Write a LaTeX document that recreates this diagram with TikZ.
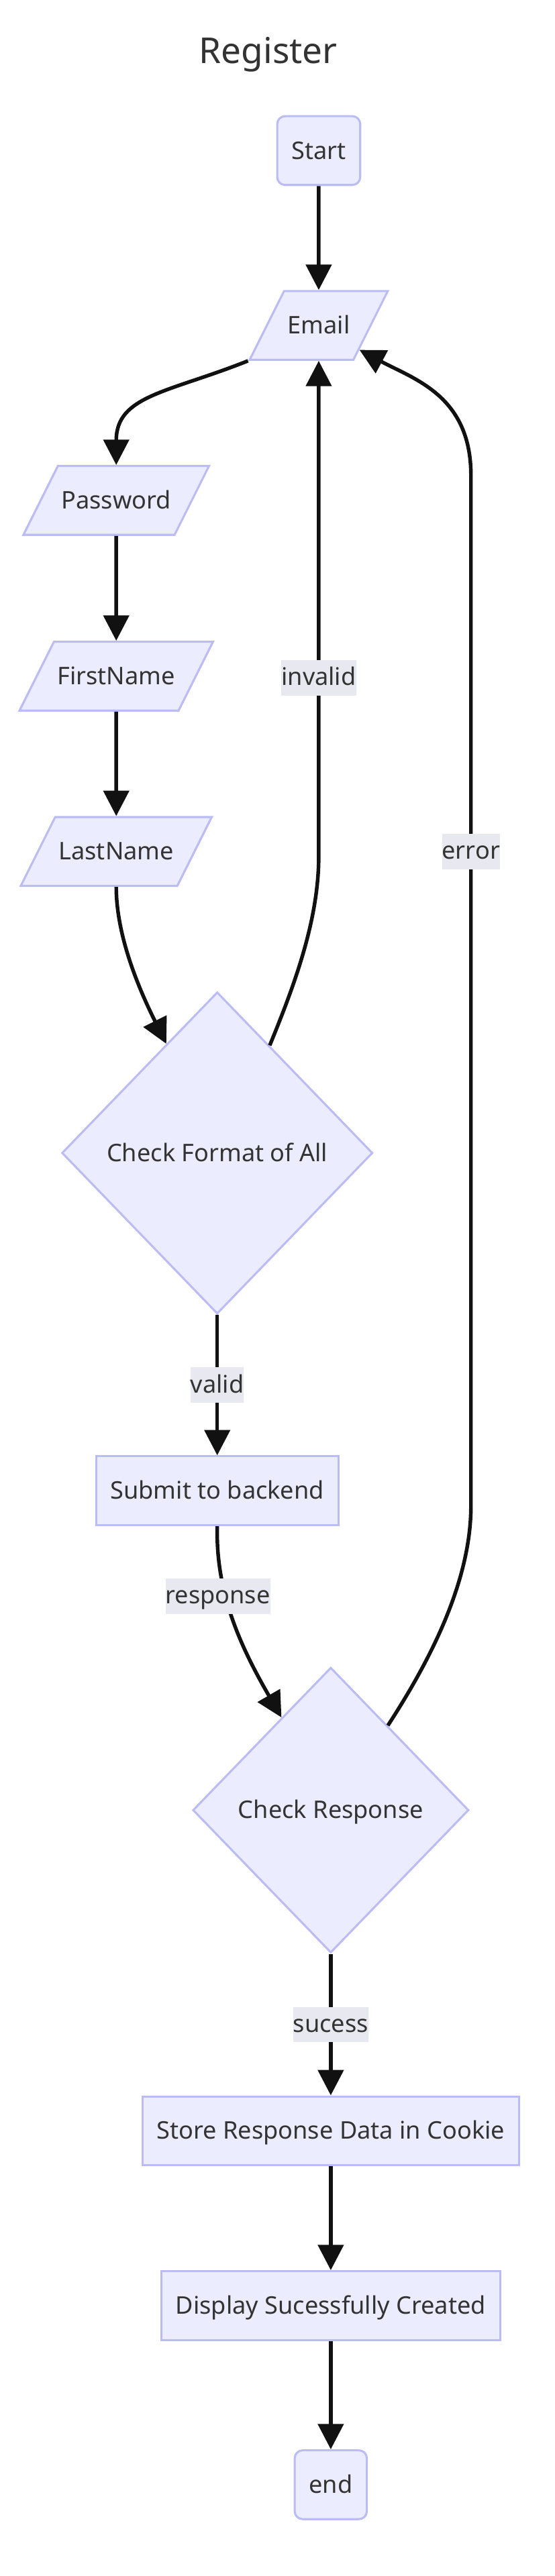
\documentclass[tikz,border=0pt]{standalone}
\usepackage{fontspec}
\setmainfont{Noto Sans}
\usetikzlibrary{arrows.meta,shapes.geometric}
\definecolor{nodefill}{HTML}{ECECFF}
\definecolor{nodeline}{HTML}{BCBCF5}
\definecolor{lblfill}{HTML}{E8E8F0}
\definecolor{txtgray}{HTML}{333333}
\definecolor{edgeblack}{HTML}{111111}
\begin{document}
\begin{tikzpicture}[x=1pt,y=-1pt,
  every node/.style={font=\fontsize{15.3}{18}\selectfont, text=txtgray},
  base/.style={draw=nodeline, fill=nodefill, line width=1.3pt, text height=14pt, text depth=3.3pt},
  term/.style={base, rectangle, rounded corners=5pt, inner xsep=9pt, inner ysep=13.05pt},
  proc/.style={base, rectangle, inner xsep=9pt, inner ysep=13.05pt},
  io/.style={base, trapezium, trapezium left angle=63.43, trapezium right angle=116.57, inner xsep=2.2pt, inner ysep=13.05pt},
  decide/.style 2 args={base, diamond, inner sep=0pt, minimum width=#1, minimum height=#2},
  flow/.style={draw=edgeblack, line width=2.3pt, -{Triangle[length=16pt,width=16pt]}},
  lbl/.style={fill=lblfill, inner xsep=0pt, inner ysep=0.75pt, text height=15.2pt, text depth=5.6pt}
]
\fill[white] (0,0) rectangle (350,1625.2);

\node[anchor=base, font=\fontsize{22.5}{27}\selectfont] (title) at (169.2,40.1) {Register};
\node[term] (start) at (201,95) {Start};
\node[io] (email) at (201,205.3) {Email};
\node[io] (pwd) at (73.3,315.7) {Password};
\node[io] (fname) at (73.3,426.6) {FirstName};
\node[io] (lname) at (73.3,537.2) {LastName};
\node[decide={196pt}{203pt}] (chkfmt) at (137,727.4) {Check Format of All};
\node[proc] (submit) at (137,940.5) {Submit to backend};
\node[decide={174pt}{180pt}] (chkresp) at (208.6,1142) {Check Response};
\node[proc] (store) at (208.6,1344.3) {Store Response Data in Cookie};
\node[proc] (disp) at (208.6,1454.6) {Display Sucessfully Created};
\node[term] (stop) at (208.6,1567.6) {end};

\coordinate (invbend) at (email.south |- 0,540);
\coordinate (errbot) at (297,950);
\coordinate (errtop) at (297,300);

\draw[flow] (start) -- (email);
\draw[flow] (email.bottom left corner) .. controls +(-50,20) and +(0,-44) .. (pwd.north);
\draw[flow] (pwd) -- (fname);
\draw[flow] (fname) -- (lname);
\draw[flow] (lname.south) .. controls +(0,30) and +(-18,-36) .. (chkfmt.115);
\draw[flow] (chkfmt.64) .. controls +(16,-39) and +(0,40) .. (invbend) -- (email.south) node[lbl,pos=0.36] (lblinv) {invalid};
\draw[flow] (chkfmt) -- (submit) node[lbl,midway] (lblvalid) {valid};
\draw[flow] (submit.south) .. controls +(-1,42) and +(-26,-45) .. (chkresp.118) node[lbl,pos=0.37,xshift=-5pt] (lblresp) {response};
\draw[flow] (chkresp.56) .. controls +(24,-37) and +(0,50) .. (errbot) -- (errtop) node[lbl,pos=0.635] (lblerr) {error} .. controls +(0,-50) and +(35,18.7) .. (email.-31);
\draw[flow] (chkresp) -- (store) node[lbl,midway] (lblsuc) {sucess};
\draw[flow] (store) -- (disp);
\draw[flow] (disp) -- (stop);
\end{tikzpicture}
\end{document}
